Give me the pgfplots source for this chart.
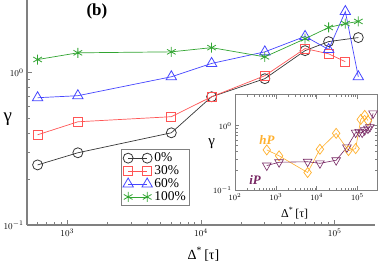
\documentclass[border=0pt]{standalone}
\usepackage{fontspec}
\setmainfont{Liberation Serif}
\usepackage{pgfplots}
\pgfplotsset{compat=1.18}
\definecolor{cblk}{RGB}{55,55,55}
\definecolor{cred}{RGB}{255,85,85}
\definecolor{cblu}{RGB}{70,70,255}
\definecolor{cgrn}{RGB}{50,165,50}
\definecolor{corg}{RGB}{255,176,45}
\definecolor{cpur}{RGB}{120,40,100}
\begin{document}
\begin{tikzpicture}[x=1bp,y=1bp]
\path[use as bounding box] (0,0) rectangle (382,266);
\begin{axis}[at={(27bp,41bp)}, anchor=south west, scale only axis,
  width=348bp, height=225bp,
  xmode=log, ymode=log, xmin=500, xmax=2e5, ymin=0.1, ymax=3,
  axis x line=bottom, axis y line=left,
  axis line style={gray, line width=1.4bp, -},
  tick style={gray, line width=0.8bp},
  major tick length=5bp, minor tick length=3bp, tick align=inside,
  ticklabel style={font=\fontsize{9.5}{10}\selectfont},
  xlabel={Δ\textsuperscript{*}\,[τ]}, ylabel={γ},
  every axis x label/.style={at={(axis description cs:0.507,-0.13)}, anchor=center, font=\fontsize{14}{15}\selectfont},
  every axis y label/.style={at={(axis description cs:-0.055,0.47)}, anchor=center, font=\fontsize{19}{20}\selectfont},
  legend style={at={(axis description cs:0.270,0.338)}, anchor=north west, draw=gray, line width=1bp, fill=white,
    font=\fontsize{13.5}{14}\selectfont, row sep=-1.5bp, inner sep=1.5bp},
  legend cell align=left,
  legend image code/.code={\draw[#1, line width=0.7bp] plot coordinates {(0bp,0bp) (19bp,0bp)};},
  every axis plot/.append style={line width=0.7bp, mark options={line width=0.8bp, solid, fill=none}},
]
\addplot[cblk, mark=o, mark size=5bp] coordinates {(600,0.248) (1200,0.298) (6000,0.403) (12000,0.695) (30000,0.913) (60000,1.395) (90000,1.60) (150000,1.70)};
\addlegendentry{0\%}
\addplot[cred, mark=square, mark size=4.5bp] coordinates {(600,0.391) (1200,0.476) (6000,0.514) (12000,0.695) (30000,0.955) (60000,1.44) (90000,1.33) (120000,1.18)};
\addlegendentry{30\%}
\addplot[cblu, mark=triangle, mark size=6bp] coordinates {(600,0.685) (1200,0.706) (6000,0.94) (12000,1.15) (30000,1.37) (60000,1.73) (90000,1.42) (120000,2.52) (150000,0.94)};
\addlegendentry{60\%}
\addplot[cgrn, mark=asterisk, mark size=5bp] coordinates {(600,1.22) (1200,1.35) (6000,1.37) (12000,1.46) (30000,1.27) (60000,1.67) (90000,1.98) (120000,2.10) (150000,2.17)};
\addlegendentry{100\%}
\node[font=\fontsize{17}{18}\selectfont\bfseries] at (axis description cs:0.201,0.947) {(b)};
\end{axis}
\begin{axis}[at={(235bp,76bp)}, anchor=south west, scale only axis,
  width=142bp, height=95bp,
  xmode=log, ymode=log, xmin=100, xmax=3e5, ymin=0.1, ymax=3,
  axis background/.style={fill=white},
  axis line style={gray, line width=1bp},
  tick style={gray, line width=0.6bp},
  major tick length=4bp, minor tick length=2.5bp, tick align=inside,
  ticklabel style={font=\fontsize{8.5}{9}\selectfont},
  xtick={100,1000,10000,100000},
  xlabel={Δ\textsuperscript{*}\,[τ]}, ylabel={γ},
  every axis x label/.style={at={(axis description cs:0.42,-0.245)}, anchor=center, font=\fontsize{12}{13}\selectfont},
  every axis y label/.style={at={(axis description cs:-0.165,0.49)}, anchor=center, font=\fontsize{15}{16}\selectfont},
  every axis plot/.append style={line width=0.6bp, mark options={line width=0.7bp, solid, fill=none}},
]
\addplot[corg, mark=diamond, mark size=5bp] coordinates {(600,0.42) (1200,0.34) (6000,0.187) (12000,0.43) (30000,0.76) (60000,0.41) (90000,0.44) (120000,1.25) (150000,1.45) (180000,1.2)};
\addplot[cpur, mark=triangle, mark size=5bp, mark options={rotate=180}] coordinates {(600,0.24) (1200,0.27) (6000,0.275) (12000,0.26) (30000,0.29) (55000,0.46) (90000,0.78) (110000,0.80) (130000,0.78) (150000,0.85) (180000,0.90) (200000,0.95) (240000,1.55)};
\node[corg, font=\fontsize{13}{14}\selectfont\bfseries\itshape] at (axis description cs:0.225,0.526) {hP};
\node[cpur, font=\fontsize{13}{14}\selectfont\bfseries\itshape] at (axis description cs:0.141,0.105) {iP};
\end{axis}
\end{tikzpicture}
\end{document}
